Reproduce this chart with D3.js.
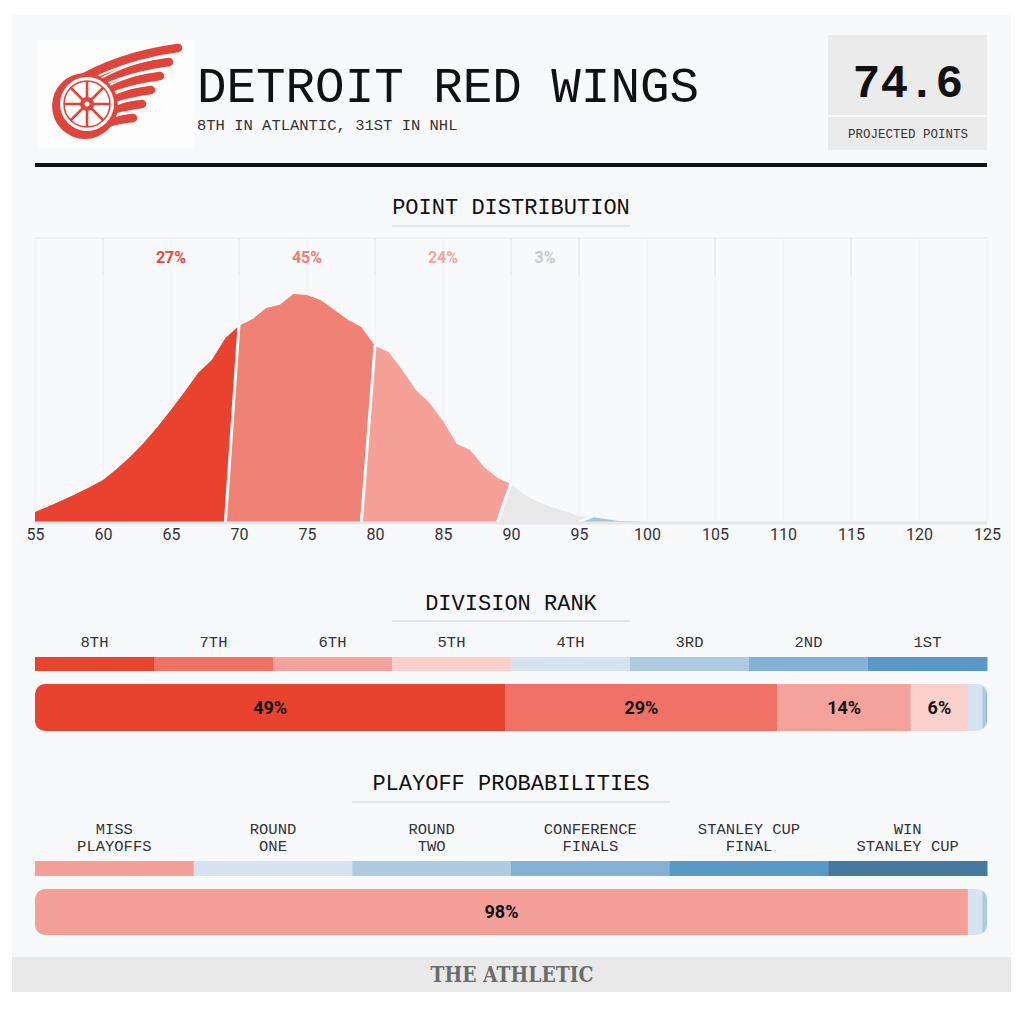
<!DOCTYPE html>
<html><head><meta charset="utf-8">
<script src="https://cdn.jsdelivr.net/npm/d3@7/dist/d3.min.js"></script>
<style>body{margin:0;background:#fff;} svg{display:block}</style>
</head><body>
<svg id="chart" width="1024" height="1009"></svg>
<script>
// ---------------- DATA ----------------
const teamName = "DETROIT RED WINGS";
const teamSub = "8TH IN ATLANTIC, 31ST IN NHL";
const projectedPoints = "74.6";
const projectedLabel = "PROJECTED POINTS";

// point distribution (probability %, per point total)
const distPoints = [55,56,57,58,59,60,61,62,63,64,65,66,67,68,69,70,71,72,73,74,75,76,77,78,79,80,81,82,83,84,85,86,87,88,89,90,91,92,93,94,95,96,97,98,99,100];
const distValues = [0.22,0.35,0.48,0.62,0.77,0.93,1.17,1.44,1.75,2.10,2.48,2.88,3.30,3.58,4.07,4.34,4.49,4.73,4.80,5.04,5.02,4.91,4.69,4.47,4.31,3.89,3.76,3.36,2.92,2.63,2.23,1.73,1.59,1.22,0.97,0.84,0.60,0.44,0.33,0.24,0.13,0.11,0.06,0.02,0.01,0];
const segStart = [55, 70, 80, 90, 96];
const segEnd   = [70, 80, 90, 96, 100];
const segColors = ["#e9432f", "#f08275", "#f5a198", "#e8e8e8", "#a9c5de"];
const segPctLabels = ["27%", "45%", "24%", "3%"];
const segLabelFrom = [60, 70, 80, 90];
const segLabelTo   = [70, 80, 90, 95];
const segLabelColors = ["#e4483a", "#ee7e71", "#f4a59c", "#c9c9c9"];
const stripDividers = [60, 70, 80, 90, 95, 105, 115];
const axisTicks = [55,60,65,70,75,80,85,90,95,100,105,110,115,120,125];

// division rank
const rankLabels = ["8TH","7TH","6TH","5TH","4TH","3RD","2ND","1ST"];
const rankColors = ["#e8432f","#f07266","#f4a39c","#fad0cc","#d5e4f0","#aecbe2","#84b1d4","#5b98c6"];
const rankPct = [49.4, 28.6, 14.0, 6.0, 1.5, 0.4, 0.1, 0.0];

// playoff probabilities
const playoffLabels = [["MISS","PLAYOFFS"],["ROUND","ONE"],["ROUND","TWO"],["CONFERENCE","FINALS"],["STANLEY CUP","FINAL"],["WIN","STANLEY CUP"]];
const playoffColors = ["#f4a099","#d5e4f0","#aecbe2","#84b1d4","#5b98c6","#46799f"];
const playoffPct = [98.0, 1.5, 0.5, 0.0, 0.0, 0.0];

// ---------------- DRAW ----------------
const svg = d3.select("#chart");
const MONO = "'Liberation Mono','DejaVu Sans Mono',monospace";
const SANS = "Roboto,'Open Sans',sans-serif";
const L = 35, R = 987;

svg.append("rect").attr("width",1024).attr("height",1009).attr("fill","#fff");
svg.append("rect").attr("x",12).attr("y",15).attr("width",999).attr("height",942).attr("fill","#f8f9fb");
svg.append("rect").attr("x",12).attr("y",957).attr("width",999).attr("height",35).attr("fill","#e9e9e9");
svg.append("text").attr("x",512).attr("y",982).attr("text-anchor","middle")
  .attr("font-family","'DejaVu Serif Condensed','DejaVu Serif',serif").attr("font-stretch","condensed")
  .attr("font-weight","bold").attr("font-size",22).attr("fill","#6b6b6b")
  .attr("textLength",163).attr("lengthAdjust","spacingAndGlyphs").text("THE ATHLETIC");

// ---- logo (decorative) ----
const logo = svg.append("g");
logo.append("rect").attr("x",37).attr("y",40).attr("width",158).attr("height",108).attr("fill","#fdfdfe");
const red = "#e0453b";
for (let k = 0; k < 6; k++) {
  const sx = 72 + k*7, sy = 84 + k*8;
  const ex = 178 - k*9, ey = 48 + k*14;
  const cx = 118 - k*2, cy = 56 + k*13;
  logo.append("path").attr("d",`M${sx},${sy} Q${cx},${cy} ${ex},${ey}`)
    .attr("fill","none").attr("stroke",red).attr("stroke-width",8.5).attr("stroke-linecap","round");
}
for (let k = 0; k < 5; k++) {
  const sx = 82 + k*7, sy = 90 + k*8;
  const ex = 170 - k*9, ey = 56 + k*14;
  const cx = 120 - k*2, cy = 63 + k*13;
  logo.append("path").attr("d",`M${sx},${sy} Q${cx},${cy} ${ex},${ey}`)
    .attr("fill","none").attr("stroke","#fff").attr("stroke-width",1.6).attr("stroke-linecap","round");
}
logo.append("circle").attr("cx",85).attr("cy",106).attr("r",33).attr("fill",red);
logo.append("circle").attr("cx",87).attr("cy",104).attr("r",27).attr("fill","#fff");
logo.append("circle").attr("cx",87).attr("cy",104).attr("r",23).attr("fill","none").attr("stroke",red).attr("stroke-width",1.6);
for (let a = 0; a < 8; a++) {
  const t = a*Math.PI/4;
  logo.append("line").attr("x1",87+6*Math.cos(t)).attr("y1",104+6*Math.sin(t))
    .attr("x2",87+23*Math.cos(t)).attr("y2",104+23*Math.sin(t)).attr("stroke",red).attr("stroke-width",2.6);
}
logo.append("circle").attr("cx",87).attr("cy",104).attr("r",7).attr("fill",red);
logo.append("circle").attr("cx",87).attr("cy",104).attr("r",2.5).attr("fill","#fff");

// ---- header text ----
svg.append("text").attr("x",197).attr("y",102).attr("font-family",MONO).attr("font-size",50)
  .attr("fill","#111").attr("textLength",502).attr("lengthAdjust","spacingAndGlyphs").text(teamName);
svg.append("text").attr("x",197).attr("y",130).attr("font-family",MONO).attr("font-size",15.5)
  .attr("fill","#333").text(teamSub);

svg.append("rect").attr("x",828).attr("y",35).attr("width",159).attr("height",80).attr("fill","#ebebeb");
svg.append("rect").attr("x",828).attr("y",117).attr("width",159).attr("height",33).attr("fill","#ebebeb");
svg.append("text").attr("x",908).attr("y",97).attr("text-anchor","middle").attr("font-family",MONO)
  .attr("font-weight","bold").attr("font-size",46).attr("fill","#111").text(projectedPoints);
svg.append("text").attr("x",908).attr("y",138).attr("text-anchor","middle").attr("font-family",MONO)
  .attr("font-size",12.5).attr("fill","#333").text(projectedLabel);

svg.append("rect").attr("x",L).attr("y",163).attr("width",R-L).attr("height",4).attr("fill","#111");

// section title helper
function sectionTitle(txt, yBase, uy, ux0, ux1) {
  svg.append("text").attr("x",511).attr("y",yBase).attr("text-anchor","middle").attr("font-family",MONO)
    .attr("font-size",22).attr("fill","#111").text(txt);
  svg.append("line").attr("x1",ux0).attr("x2",ux1).attr("y1",uy).attr("y2",uy)
    .attr("stroke","#e3e4e7").attr("stroke-width",2);
}

// ---- point distribution ----
sectionTitle("POINT DISTRIBUTION", 214, 226, 392, 630);
const x = d3.scaleLinear().domain([55,125]).range([L,R]);
const y = d3.scaleLinear().domain([0,6.3]).range([522,237]);
const g = svg.append("g");

g.append("line").attr("x1",L).attr("x2",R).attr("y1",238).attr("y2",238).attr("stroke","#e6e7ea");
g.selectAll(".grid").data(axisTicks).join("line")
  .attr("x1",d=>x(d)).attr("x2",d=>x(d)).attr("y1",238).attr("y2",522)
  .attr("stroke","#eef0f2").attr("stroke-width",1);
g.selectAll(".strip").data(stripDividers).join("line")
  .attr("x1",d=>x(d)).attr("x2",d=>x(d)).attr("y1",238).attr("y2",275)
  .attr("stroke","#e4e5e8").attr("stroke-width",1);

function valAt(p) {
  if (p <= distPoints[0]) return distValues[0];
  if (p >= distPoints[distPoints.length-1]) return distValues[distValues.length-1];
  const i = d3.bisectRight(distPoints, p) - 1;
  const t = (p - distPoints[i]) / (distPoints[i+1] - distPoints[i]);
  return distValues[i] + t * ((distValues[i+1] ?? 0) - distValues[i]);
}
const line = d3.line().x(d=>x(d[0])).y(d=>y(d[1]));
segStart.forEach((s, i) => {
  const e = segEnd[i];
  const pts = [[s, valAt(s)]];
  distPoints.forEach((p, j) => { if (p > s && p < e) pts.push([p, distValues[j]]); });
  pts.push([e, valAt(e)]);
  pts.push([Math.max(55, e - 1), 0]);
  pts.push([i === 0 ? 55 : Math.max(55, s - 1), 0]);
  g.append("path").attr("d", line(pts) + "Z").attr("fill", segColors[i]);
});
// separators
segStart.slice(1).forEach(s => {
  g.append("line").attr("x1",x(s)).attr("y1",y(valAt(s)) - 1).attr("x2",x(s-1)).attr("y2",y(0))
    .attr("stroke","#fbfcfd").attr("stroke-width",3);
});
g.append("line").attr("x1",L).attr("x2",R).attr("y1",y(0)+1).attr("y2",y(0)+1)
  .attr("stroke","#e6e7ea").attr("stroke-width",3);

segPctLabels.forEach((t, i) => {
  g.append("text").attr("x", x((segLabelFrom[i]+segLabelTo[i])/2)).attr("y",263).attr("text-anchor","middle")
    .attr("font-family",SANS).attr("font-weight","bold").attr("font-size",16)
    .attr("fill",segLabelColors[i]).text(t);
});

const axis = d3.axisBottom(x).tickValues(axisTicks).tickSize(0).tickPadding(7).tickFormat(d3.format("d"));
const ag = svg.append("g").attr("transform","translate(0,522)").call(axis);
ag.select(".domain").remove();
ag.selectAll("text").attr("font-family",SANS).attr("font-size",16).attr("fill","#333");

// stacked bar helper
function stackedBar(pcts, colors, yTop, h, id) {
  const bx = d3.scaleLinear().domain([0,100]).range([L,R]);
  svg.append("clipPath").attr("id",id).append("rect").attr("x",L).attr("y",yTop)
    .attr("width",R-L).attr("height",h).attr("rx",10).attr("ry",10);
  const bg = svg.append("g").attr("clip-path",`url(#${id})`);
  let acc = 0;
  const segs = pcts.map((p,i)=>{ const s = {x0:acc, x1:acc+p, p, c:colors[i]}; acc += p; return s; });
  bg.selectAll("rect").data(segs).join("rect")
    .attr("x",d=>bx(d.x0)).attr("width",d=>Math.max(0,bx(d.x1)-bx(d.x0)))
    .attr("y",yTop).attr("height",h).attr("fill",d=>d.c);
  svg.selectAll(null).data(segs.filter(d=>d.p>=5)).join("text")
    .attr("x",d=>bx((d.x0+d.x1)/2)).attr("y",yTop+h/2).attr("dy","0.36em").attr("text-anchor","middle")
    .attr("font-family",SANS).attr("font-weight","bold").attr("font-size",18).attr("fill","#111")
    .text(d=>Math.round(d.p)+"%");
}

// ---- division rank ----
sectionTitle("DIVISION RANK", 610, 621, 392, 630);
const rx = d3.scaleBand().domain(rankLabels).range([L,R]);
svg.selectAll(".rl").data(rankLabels).join("text")
  .attr("x",d=>rx(d)+rx.bandwidth()/2).attr("y",647).attr("text-anchor","middle")
  .attr("font-family",MONO).attr("font-size",15.5).attr("fill","#333").text(d=>d);
svg.selectAll(".rc").data(rankLabels).join("rect")
  .attr("x",d=>rx(d)).attr("width",rx.bandwidth()+0.5).attr("y",657).attr("height",14)
  .attr("fill",(d,i)=>rankColors[i]);
stackedBar(rankPct, rankColors, 684, 47, "clipRank");

// ---- playoff probabilities ----
sectionTitle("PLAYOFF PROBABILITIES", 790, 802, 352, 670);
const px = d3.scaleBand().domain(d3.range(playoffLabels.length)).range([L,R]);
playoffLabels.forEach((lines, i) => {
  lines.forEach((t, j) => {
    svg.append("text").attr("x",px(i)+px.bandwidth()/2).attr("y",834 + j*17).attr("text-anchor","middle")
      .attr("font-family",MONO).attr("font-size",15.5).attr("fill","#333").text(t);
  });
});
svg.selectAll(".pc").data(playoffColors).join("rect")
  .attr("x",(d,i)=>px(i)).attr("width",px.bandwidth()+0.5).attr("y",861).attr("height",15)
  .attr("fill",d=>d);
stackedBar(playoffPct, playoffColors, 889, 46, "clipPlayoff");
</script>
</body></html>
